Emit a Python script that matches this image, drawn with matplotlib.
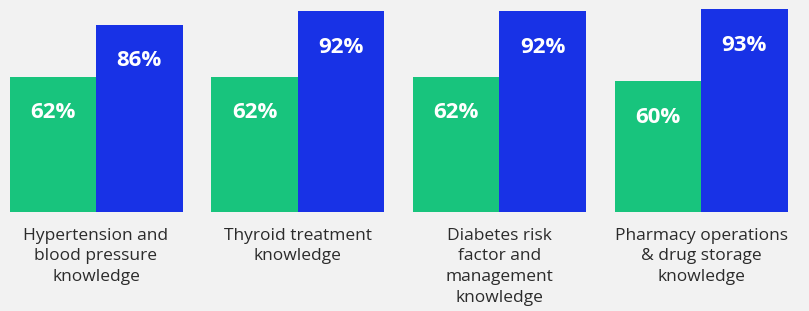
import numpy as np
import matplotlib.pyplot as plt

categories = ['Hypertension and\nblood pressure\nknowledge',
              'Thyroid treatment\nknowledge',
              'Diabetes risk\nfactor and\nmanagement\nknowledge',
              'Pharmacy operations\n& drug storage\nknowledge']
before = [62, 62, 62, 60]
after = [86, 92, 92, 93]

green = '#18c47d'
blue = '#1832e6'
bg = '#f2f2f2'

fig = plt.figure(figsize=(8.09, 3.11), dpi=100, facecolor=bg)
ax = fig.add_axes([0, (311 - 212) / 311, 1, 212 / 311])
ax.set_facecolor(bg)

x = np.arange(len(categories))
w = 86.5 / 201.7
ax.bar(x - w / 2, before, w, color=green)
ax.bar(x + w / 2, after, w, color=blue)

for i in range(len(categories)):
    ax.text(x[i] - w / 2, before[i] - 16.5, f'{before[i]}%', ha='center', va='center',
            color='white', fontsize=16, fontweight='bold', family='Open Sans')
    ax.text(x[i] + w / 2, after[i] - 16.5, f'{after[i]}%', ha='center', va='center',
            color='white', fontsize=16, fontweight='bold', family='Open Sans')
    ax.text(x[i], -7.3, categories[i], ha='center', va='top', color='#2b2b2b',
            fontsize=12.5, family='Open Sans', linespacing=1.38)

ax.set_xlim(-96 / 201.7, (809 - 96) / 201.7)
ax.set_ylim(0, 212 / 2.18)
ax.axis('off')

plt.savefig('out.png', dpi=100, facecolor=bg)
